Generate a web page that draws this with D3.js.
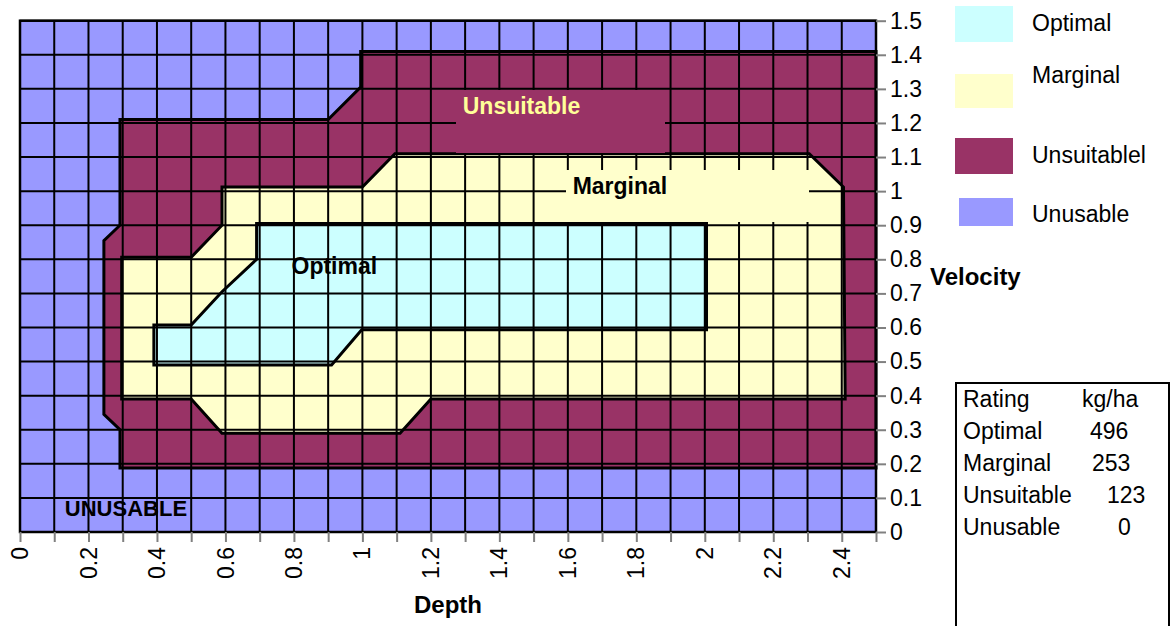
<!DOCTYPE html>
<html>
<head>
<meta charset="utf-8">
<script src="https://cdn.jsdelivr.net/npm/d3@7/dist/d3.min.js"></script>
<style>
  html, body { margin: 0; padding: 0; background: #fff; }
  svg { display: block; font-family: "Liberation Sans", Arial, sans-serif; }
</style>
</head>
<body>
<svg id="chart" width="1175" height="626"></svg>
<script>
// ---- data ----
const depthGrid = [0, 0.1, 0.2, 0.3, 0.4, 0.5, 0.6, 0.7, 0.8, 0.9, 1.0, 1.1, 1.2, 1.3, 1.4, 1.5, 1.6, 1.7, 1.8, 1.9, 2.0, 2.1, 2.2, 2.3, 2.4, 2.5];
const depthLabels = [0, 0.2, 0.4, 0.6, 0.8, 1, 1.2, 1.4, 1.6, 1.8, 2, 2.2, 2.4];
const velocityGrid = [0, 0.1, 0.2, 0.3, 0.4, 0.5, 0.6, 0.7, 0.8, 0.9, 1.0, 1.1, 1.2, 1.3, 1.4, 1.5];

const ratingNames = ["Optimal", "Marginal", "Unsuitablel", "Unusable"];
const ratingColors = ["#CCFFFF", "#FFFFCC", "#993366", "#9999FF"];

// contour region outlines, [depth, velocity]
const unsuitableRegion = [[0.995,1.41],[2.5,1.41],[2.5,0.188],[0.292,0.188],[0.292,0.3],[0.245,0.345],[0.245,0.855],[0.292,0.9],[0.292,1.21],[0.9,1.21],[0.995,1.305]];
const marginalRegion = [[0.297,0.806],[0.5,0.806],[0.59,0.9],[0.59,1.012],[1.0,1.012],[1.095,1.11],[2.305,1.11],[2.405,1.012],[2.41,0.39],[1.2,0.39],[1.11,0.29],[0.59,0.29],[0.5,0.39],[0.297,0.39]];
const optimalRegion = [[0.691,0.905],[2.005,0.905],[2.005,0.593],[0.998,0.593],[0.91,0.49],[0.391,0.49],[0.391,0.607],[0.5,0.607],[0.59,0.705],[0.691,0.8]];

const tableRatings = ["Optimal", "Marginal", "Unsuitable", "Unusable"];
const tableYields = [496, 253, 123, 0];

// ---- layout ----
const svg = d3.select("#chart");
const x = d3.scaleLinear().domain([0, 2.5]).range([20, 876]);
const y = d3.scaleLinear().domain([0, 1.5]).range([532, 20.7]);
const line = d3.line().x(d => x(d[0])).y(d => y(d[1]));

// background (Unusable)
svg.append("rect").attr("x", x(0)).attr("y", y(1.5))
  .attr("width", x(2.5) - x(0)).attr("height", y(0) - y(1.5))
  .attr("fill", ratingColors[3]);

const regions = [
  {pts: unsuitableRegion, color: ratingColors[2]},
  {pts: marginalRegion, color: ratingColors[1]},
  {pts: optimalRegion, color: ratingColors[0]}
];
svg.selectAll("path.region").data(regions).join("path")
  .attr("class", "region")
  .attr("d", d => line(d.pts) + "Z")
  .attr("fill", d => d.color);

// gridlines
const grid = svg.append("g").attr("stroke", "#000").attr("stroke-width", 2);
grid.selectAll("line.v").data(depthGrid).join("line").attr("class", "v")
  .attr("x1", d => x(d)).attr("x2", d => x(d)).attr("y1", y(0)).attr("y2", y(1.5));
grid.selectAll("line.h").data(velocityGrid).join("line").attr("class", "h")
  .attr("y1", d => y(d)).attr("y2", d => y(d)).attr("x1", x(0)).attr("x2", x(2.5));

// region outlines
svg.selectAll("path.outline").data(regions).join("path")
  .attr("class", "outline")
  .attr("d", d => line(d.pts) + "Z")
  .attr("fill", "none").attr("stroke", "#000").attr("stroke-width", 3)
  .attr("stroke-linejoin", "miter");

// label boxes
svg.append("rect").attr("x", 456).attr("y", 90).attr("width", 209).attr("height", 63)
  .attr("fill", ratingColors[2]);
svg.append("rect").attr("x", 566).attr("y", 170).attr("width", 243).attr("height", 52)
  .attr("fill", ratingColors[1]);

// plot frame
svg.append("rect").attr("x", x(0)).attr("y", y(1.5))
  .attr("width", x(2.5) - x(0)).attr("height", y(0) - y(1.5))
  .attr("fill", "none").attr("stroke", "#000").attr("stroke-width", 2.5);

// in-plot labels
const lbl = (t, dx, vy, col) => svg.append("text").text(t)
  .attr("x", x(dx)).attr("y", y(vy)).attr("fill", col)
  .attr("font-size", 23).attr("font-weight", "bold");
lbl("Unsuitable", 1.293, 1.226, "#FFFF99");
lbl("Marginal", 1.614, 0.991, "#000");
lbl("Optimal", 0.793, 0.757, "#000");
svg.append("text").text("UNUSABLE").attr("x", x(0.131)).attr("y", y(0.047))
  .attr("font-size", 22).attr("font-weight", "bold").attr("fill", "#000");

// x axis
const xAxis = d3.axisBottom(x).tickValues(depthGrid).tickSize(10).tickFormat("");
const gx = svg.append("g").attr("transform", `translate(0,${y(0)})`).call(xAxis);
gx.select(".domain").remove();
gx.selectAll(".tick line").attr("stroke", "#808080").attr("stroke-width", 2);
svg.selectAll("text.xl").data(depthLabels).join("text").attr("class", "xl")
  .attr("transform", d => `translate(${x(d)},547) rotate(-90)`)
  .attr("text-anchor", "end").attr("dy", "0.35em")
  .attr("font-size", 23).text(d => d3.format("")(d));
svg.append("text").text("Depth").attr("x", 448).attr("y", 613)
  .attr("text-anchor", "middle").attr("font-size", 24).attr("font-weight", "bold");

// y axis (right)
const yAxis = d3.axisRight(y).tickValues(velocityGrid).tickSize(10).tickPadding(4)
  .tickFormat(d => d3.format("")(+d.toFixed(1)));
const gy = svg.append("g").attr("transform", `translate(${x(2.5)},0)`).call(yAxis);
gy.select(".domain").remove();
gy.selectAll(".tick line").attr("stroke", "#808080").attr("stroke-width", 2);
gy.selectAll(".tick text").attr("font-size", 23).attr("fill", "#000")
  .attr("font-family", "Liberation Sans, Arial, sans-serif");
svg.append("text").text("Velocity").attr("x", 930).attr("y", 285)
  .attr("font-size", 24).attr("font-weight", "bold");

// legend
const legendBoxes = [[955, 6, 58, 36], [955, 74, 58, 34], [955, 138, 58, 36], [959, 198, 54, 28]];
const legendBase = [31, 83, 163, 222];
const lg = svg.append("g");
lg.selectAll("rect").data(ratingNames).join("rect")
  .attr("x", (d, i) => legendBoxes[i][0]).attr("y", (d, i) => legendBoxes[i][1])
  .attr("width", (d, i) => legendBoxes[i][2]).attr("height", (d, i) => legendBoxes[i][3])
  .attr("fill", (d, i) => ratingColors[i]);
lg.selectAll("text").data(ratingNames).join("text")
  .attr("x", 1032).attr("y", (d, i) => legendBase[i])
  .attr("font-size", 23).text(d => d);

// yield table
svg.append("rect").attr("x", 956).attr("y", 383).attr("width", 213).attr("height", 260)
  .attr("fill", "#fff").attr("stroke", "#000").attr("stroke-width", 2);
const tb = svg.append("g").attr("font-size", 23);
tb.append("text").attr("x", 963).attr("y", 407).text("Rating");
tb.append("text").attr("x", 1082).attr("y", 407).text("kg/ha");
const valX = [1090, 1092, 1107, 1118];
tb.selectAll("text.r").data(tableRatings).join("text").attr("class", "r")
  .attr("x", 963).attr("y", (d, i) => 439 + i * 32).text(d => d);
tb.selectAll("text.v").data(tableYields).join("text").attr("class", "v")
  .attr("x", (d, i) => valX[i]).attr("y", (d, i) => 439 + i * 32).text(d => d);
</script>
</body>
</html>
